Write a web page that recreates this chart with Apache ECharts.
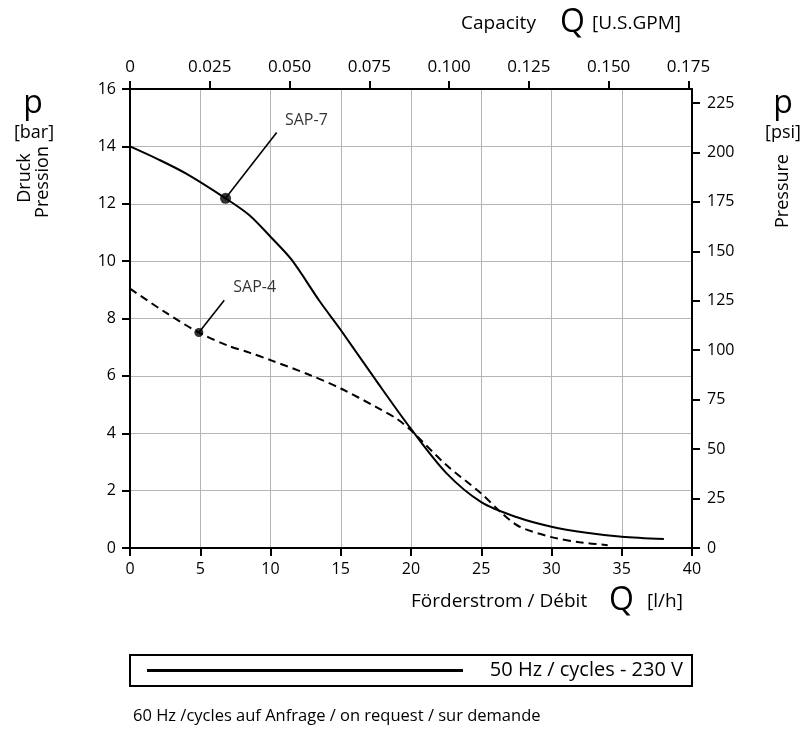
<!DOCTYPE html>
<html>
<head>
<meta charset="utf-8">
<script src="https://cdn.jsdelivr.net/npm/echarts@6/dist/echarts.min.js"></script>
<style>
html,body{margin:0;padding:0;background:#fff;}
#chart{width:805px;height:731px;}
</style>
</head>
<body>
<div id="chart"></div>
<script>
// ---- data ----
const sap7Flow     = [0, 2, 4, 6.8, 8.5, 10, 11.5, 13.5, 15, 17.5, 20, 22.5, 25, 27.5, 30, 32.5, 35, 38];
const sap7Pressure = [14.0, 13.55, 13.05, 12.19, 11.6, 10.85, 10.05, 8.6, 7.6, 5.85, 4.15, 2.62, 1.6, 1.08, 0.74, 0.53, 0.39, 0.31];
const sap4Flow     = [0, 2.5, 4.9, 7, 8.5, 10, 12.8, 15, 17.5, 19, 20, 22.5, 25, 26.5, 27.7, 30, 32, 34];
const sap4Pressure = [9.04, 8.22, 7.51, 7.05, 6.81, 6.55, 6.03, 5.56, 4.92, 4.5, 4.1, 2.9, 1.9, 1.2, 0.75, 0.38, 0.2, 0.1];
const sap7Marker = [6.8, 12.19];
const sap4Marker = [4.9, 7.51];
const sap7LeaderEnd = [10.44, 14.48];
const sap4LeaderEnd = [6.71, 8.64];
const sap7LabelAt = [11.03, 14.9];
const sap4LabelAt = [7.35, 9.08];
const gpmTicks = [0, 0.025, 0.05, 0.075, 0.1, 0.125, 0.15, 0.175];
const psiTicks = [0, 25, 50, 75, 100, 125, 150, 175, 200, 225];
const LH_PER_GPM = 227.1247;
const PSI_PER_BAR = 14.5038;
const flowMax = 40, barMax = 16;

const FONT = 'Open Sans';
const black = '#000';

const zip = (a, b) => a.map((v, i) => [v, b[i]]);

const chart = echarts.init(document.getElementById('chart'), null, {renderer: 'canvas'});
const option = {
  backgroundColor: '#fff',
  animation: false,
  textStyle: {fontFamily: FONT, color: black},
  grid: {left: 130, right: 113, top: 89, bottom: 183, containLabel: false},
  xAxis: [
    {
      type: 'value', position: 'bottom', min: 0, max: flowMax, interval: 5,
      axisLine: {show: true, onZero: false, lineStyle: {color: black, width: 2}},
      axisTick: {show: true, length: 8, lineStyle: {color: black, width: 2}},
      axisLabel: {margin: 13, fontSize: 16, color: black, fontFamily: FONT},
      splitLine: {show: true, lineStyle: {color: '#b5b5b5', width: 1}}
    },
    {
      type: 'value', position: 'top', min: 0, max: flowMax / LH_PER_GPM,
      axisLine: {show: true, onZero: false, lineStyle: {color: black, width: 2}},
      axisTick: {show: true, length: 8, customValues: gpmTicks, lineStyle: {color: black, width: 2}},
      axisLabel: {margin: 13, fontSize: 17, color: black, fontFamily: FONT, customValues: gpmTicks,
        formatter: v => v === 0 ? '0' : v.toFixed(3)},
      splitLine: {show: false}
    }
  ],
  yAxis: [
    {
      type: 'value', position: 'left', min: 0, max: barMax, interval: 2,
      axisLine: {show: true, onZero: false, lineStyle: {color: black, width: 2}},
      axisTick: {show: true, length: 8, lineStyle: {color: black, width: 2}},
      axisLabel: {margin: 14, fontSize: 16, color: black, fontFamily: FONT},
      splitLine: {show: true, lineStyle: {color: '#b5b5b5', width: 1}}
    },
    {
      type: 'value', position: 'right', min: 0, max: barMax * PSI_PER_BAR,
      axisLine: {show: true, onZero: false, lineStyle: {color: black, width: 2}},
      axisTick: {show: true, length: 8, customValues: psiTicks, lineStyle: {color: black, width: 2}},
      axisLabel: {margin: 15, fontSize: 16, color: black, fontFamily: FONT, customValues: psiTicks},
      splitLine: {show: false}
    }
  ],
  series: [
    {
      name: 'SAP-7', type: 'line', data: zip(sap7Flow, sap7Pressure),
      smooth: 0.3, symbol: 'none',
      lineStyle: {color: black, width: 2}, z: 5
    },
    {
      name: 'SAP-4', type: 'line', data: zip(sap4Flow, sap4Pressure),
      smooth: 0.3, symbol: 'none',
      lineStyle: {color: black, width: 2, type: [8, 5]}, z: 5
    },
    {
      type: 'line', data: [sap7Marker, sap7LeaderEnd], symbol: 'none', silent: true,
      lineStyle: {color: black, width: 1.6}, z: 6
    },
    {
      type: 'line', data: [sap4Marker, sap4LeaderEnd], symbol: 'none', silent: true,
      lineStyle: {color: black, width: 1.6}, z: 6
    },
    {
      type: 'scatter', data: [sap7Marker], symbol: 'circle', symbolSize: 11,
      itemStyle: {color: black}, silent: true, z: 7
    },
    {
      type: 'scatter', data: [sap4Marker], symbol: 'circle', symbolSize: 9,
      itemStyle: {color: black}, silent: true, z: 7
    },
    {
      type: 'scatter', symbolSize: 0, silent: true, z: 8,
      data: [
        {value: sap7LabelAt, label: {formatter: 'SAP-7'}},
        {value: sap4LabelAt, label: {formatter: 'SAP-4'}}
      ],
      label: {show: true, position: 'right', distance: 0, fontSize: 16, color: black, fontFamily: FONT}
    }
  ],
  graphic: [
    // top axis title
    {type: 'text', left: 461, top: 14, style: {text: 'Capacity', font: '19px "Open Sans"', fill: black}},
    {type: 'text', left: 560, top: 7, style: {text: 'Q', font: '32px "Open Sans"', fill: black}},
    {type: 'text', left: 592, top: 14, style: {text: '[U.S.GPM]', font: '19px "Open Sans"', fill: black}},
    // bottom axis title
    {type: 'text', left: 411, top: 592, style: {text: 'Förderstrom / Débit', font: '19px "Open Sans"', fill: black}},
    {type: 'text', left: 609, top: 585, style: {text: 'Q', font: '32px "Open Sans"', fill: black}},
    {type: 'text', left: 647, top: 592, style: {text: '[l/h]', font: '19px "Open Sans"', fill: black}},
    // left axis title
    {type: 'text', x: 33, y: 104, style: {text: 'p', font: '32px "Open Sans"', fill: black, align: 'center', verticalAlign: 'middle'}},
    {type: 'text', x: 34, y: 133, style: {text: '[bar]', font: '18px "Open Sans"', fill: black, align: 'center', verticalAlign: 'middle'}},
    {type: 'text', x: 25, y: 178, rotation: Math.PI / 2, style: {text: 'Druck', font: '18px "Open Sans"', fill: black, align: 'center', verticalAlign: 'middle'}},
    {type: 'text', x: 43, y: 182, rotation: Math.PI / 2, style: {text: 'Pression', font: '18px "Open Sans"', fill: black, align: 'center', verticalAlign: 'middle'}},
    // right axis title
    {type: 'text', x: 783, y: 104, style: {text: 'p', font: '32px "Open Sans"', fill: black, align: 'center', verticalAlign: 'middle'}},
    {type: 'text', x: 783, y: 133, style: {text: '[psi]', font: '18px "Open Sans"', fill: black, align: 'center', verticalAlign: 'middle'}},
    {type: 'text', x: 783, y: 191, rotation: Math.PI / 2, style: {text: 'Pressure', font: '18px "Open Sans"', fill: black, align: 'center', verticalAlign: 'middle'}},
    // legend box
    {type: 'rect', shape: {x: 130, y: 655, width: 562, height: 31}, style: {fill: 'none', stroke: black, lineWidth: 2}},
    {type: 'line', shape: {x1: 147, y1: 670.5, x2: 463, y2: 670.5}, style: {stroke: black, lineWidth: 3}},
    {type: 'text', x: 683, y: 670.5, style: {text: '50 Hz / cycles - 230 V', font: '20px "Open Sans"', fill: black, align: 'right', verticalAlign: 'middle'}},
    // footnote
    {type: 'text', x: 133, y: 716, style: {text: '60 Hz /cycles auf Anfrage / on request / sur demande', font: '16.5px "Open Sans"', fill: black, align: 'left', verticalAlign: 'middle'}}
  ]
};
chart.setOption(option);
</script>
</body>
</html>
